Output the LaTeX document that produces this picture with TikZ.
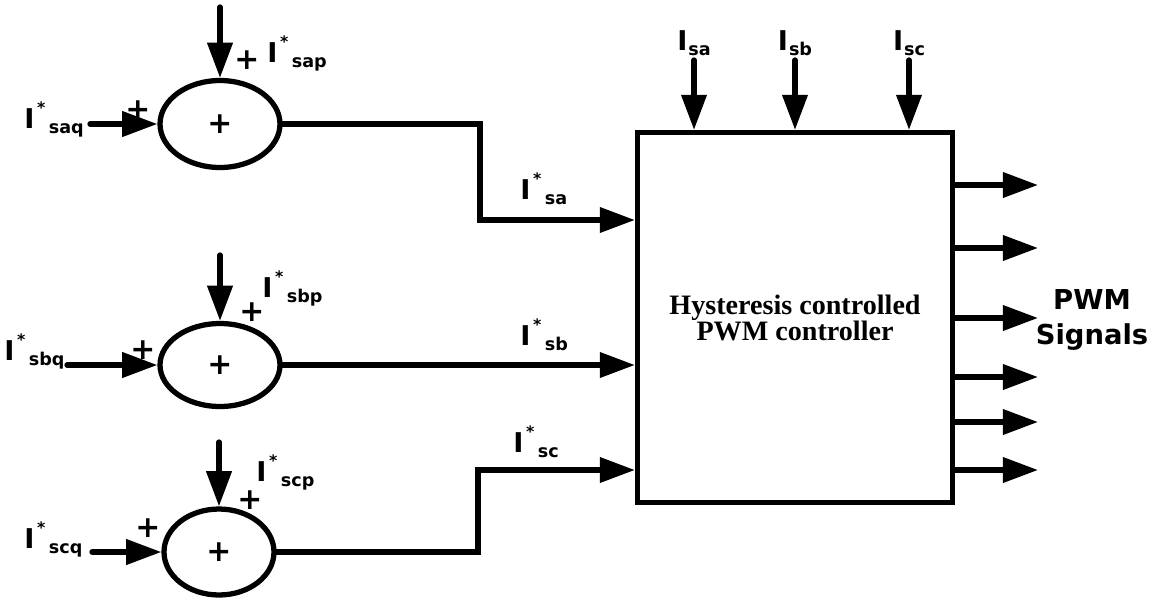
\documentclass[tikz,border=0pt]{standalone}
\usepackage{fontspec}
\setmainfont{DejaVu Sans}
\newfontfamily\blkfont{Liberation Serif}
\usetikzlibrary{shapes.geometric, arrows.meta, positioning, calc}
\tikzset{
	sumj/.style={ellipse, draw=black, line width=3pt, inner sep=0pt, font=\bfseries\fontsize{17}{17}\selectfont},
	blk/.style ={rectangle, draw=black, line width=3pt, align=center, font=\blkfont\bfseries\fontsize{16}{14.8}\selectfont},
	sig/.style ={-{Triangle[length=20pt,width=14pt]}, line width=3pt, line cap=round},
	lbl/.style ={inner sep=0pt, font=\bfseries\fontsize{15.5}{18}\selectfont},
	sgn/.style ={inner sep=0pt, font=\bfseries\fontsize{17}{17}\selectfont},
}
\newcommand{\Iref}[1]{I\kern1.5pt\raisebox{8pt}{\fontsize{9}{9}\selectfont *}\kern2pt\raisebox{-3pt}{\fontsize{10}{10}\selectfont #1}}
\newcommand{\Imeas}[1]{I\kern0.5pt\raisebox{-3pt}{\fontsize{10}{10}\selectfont #1}}

\begin{document}
\begin{tikzpicture}[x=0.02cm, y=-0.02cm]
	\useasboundingbox (0,0) rectangle (1155,599);
	% summing junctions
	\node[sumj, minimum width=2.4cm, minimum height=1.74cm] (sumA) at (220,124) {+};
	\node[sumj, minimum width=2.4cm, minimum height=1.66cm] (sumB) at (220,365) {+};
	\node[sumj, minimum width=2.2cm, minimum height=1.72cm] (sumC) at (219,552) {+};
	% controller block
	\node[blk, minimum width=6.3cm, minimum height=7.4cm] (ctrl) at (795,317.5) {Hysteresis controlled\\PWM controller};
	% reference inputs
	\coordinate (qA) at (90,124);  \draw[sig] (qA) -- (sumA.west);
	\coordinate (qB) at (67,365);  \draw[sig] (qB) -- (sumB.west);
	\coordinate (qC) at (92,552);  \draw[sig] (qC) -- (sumC.west);
	\coordinate (pA) at (220,7);   \draw[sig] (pA) -- (sumA.north);
	\coordinate (pB) at (220,255); \draw[sig] (pB) -- (sumB.north);
	\coordinate (pC) at (219,442); \draw[sig] (pC) -- (sumC.north);
	\node[lbl, anchor=base west] (lqA) at (24,128) {\Iref{saq}};
	\node[lbl, anchor=base west] (lqB) at (4,360) {\Iref{sbq}};
	\node[lbl, anchor=base west] (lqC) at (24,548) {\Iref{scq}};
	\node[lbl, anchor=base west] (lpA) at (267,62) {\Iref{sap}};
	\node[lbl, anchor=base west] (lpB) at (262,297) {\Iref{sbp}};
	\node[lbl, anchor=base west] (lpC) at (256,481) {\Iref{scp}};
	\node[sgn] (sqA) at (138,110) {+};
	\node[sgn] (sqB) at (143,350) {+};
	\node[sgn] (sqC) at (148,528) {+};
	\node[sgn] (spA) at (247,60) {+};
	\node[sgn] (spB) at (252,312) {+};
	\node[sgn] (spC) at (250,500) {+};
	% references to the controller
	\coordinate (jA) at (480,220);
	\draw[sig] (sumA.east) -| (jA) -- (jA -| ctrl.west);
	\draw[sig] (sumB.east) -- (sumB.east -| ctrl.west);
	\coordinate (jC) at (478,470);
	\draw[sig] (sumC.east) -| (jC) -- (jC -| ctrl.west);
	\node[lbl, anchor=base west] (lA) at (520,199) {\Iref{sa}};
	\node[lbl, anchor=base west] (lB) at (520,345) {\Iref{sb}};
	\node[lbl, anchor=base west] (lC) at (513,452) {\Iref{sc}};
	% measured currents
	\foreach \n/\x/\s in {a/694/sa, b/795/sb, c/909/sc} {
		\coordinate (m\n) at (\x,60);
		\draw[sig] (m\n) -- (m\n |- ctrl.north);
		\node[lbl, above=2pt of m\n] (lm\n) {\Imeas{\s}};
	}
	% gate signals
	\foreach \y [count=\i] in {185,248,318,377,422,470} {
		\coordinate (o\i) at (1038,\y);
		\draw[sig] (o\i -| ctrl.east) -- (o\i);
	}
	\node[align=center, font=\bfseries\fontsize{15.6}{20}\selectfont] (pwm) at (1092,320) {PWM\\Signals};
\end{tikzpicture}
\end{document}
